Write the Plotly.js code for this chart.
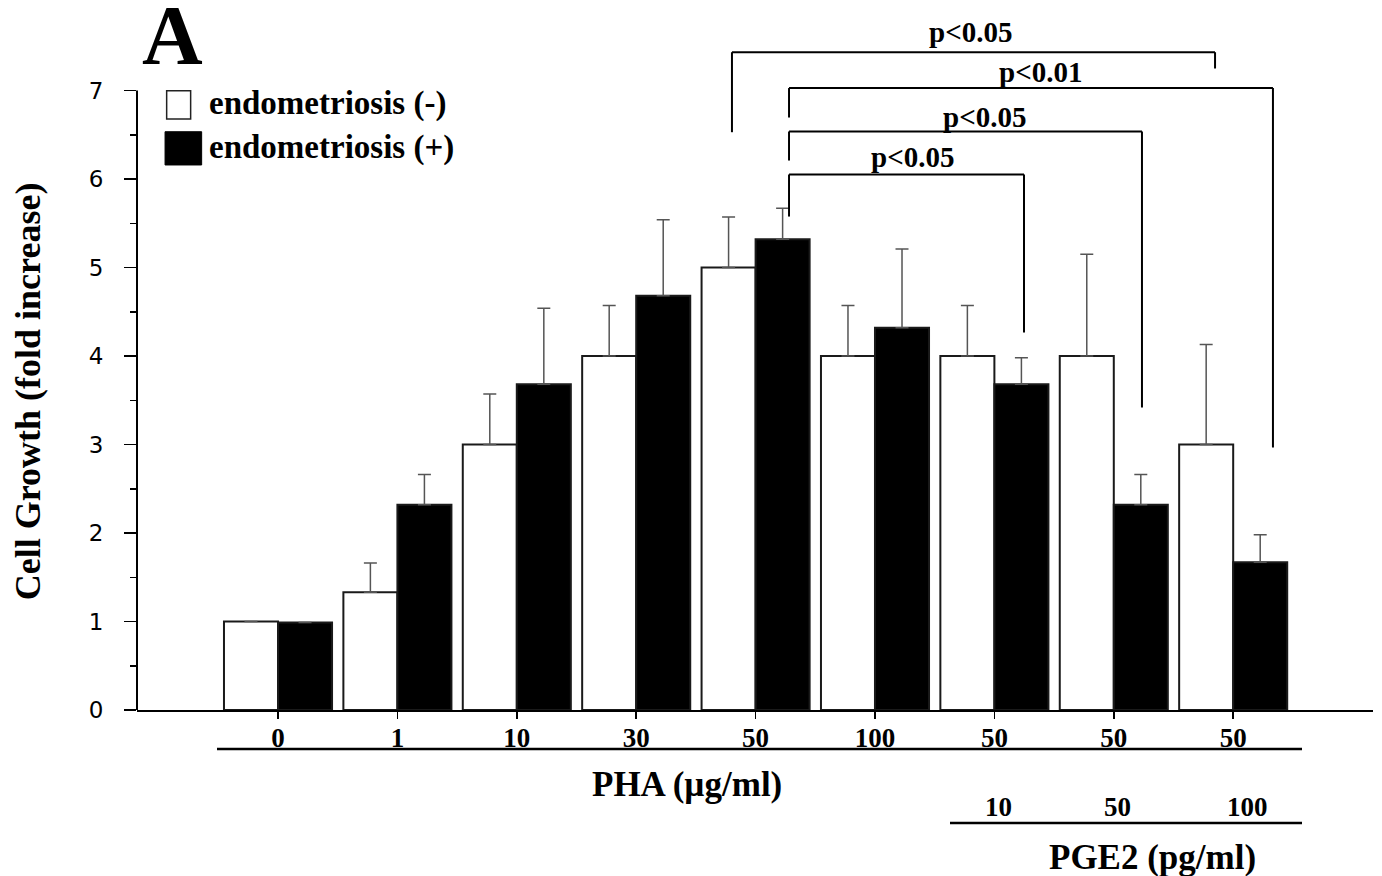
<!DOCTYPE html>
<html><head><meta charset="utf-8">
<script src="https://cdn.plot.ly/plotly-3.0.1.min.js"></script>
<style>html,body{margin:0;padding:0;background:#fff}#chart{width:1382px;height:876px}</style>
</head><body><div id="chart"></div>
<script>
// ---- data ----
const categories = ['PHA 0','PHA 1','PHA 10','PHA 30','PHA 50','PHA 100','PHA 50 + PGE2 10','PHA 50 + PGE2 50','PHA 50 + PGE2 100'];
const phaLabels = ['0','1','10','30','50','100','50','50','50'];
const pgeLabels = ['10','50','100'];
const pgeGroups = [6,7,8];
const endoNeg = [1.00,1.33,3.00,4.00,5.00,4.00,4.00,4.00,3.00];
const endoNegErr = [0,0.33,0.57,0.57,0.57,0.57,0.57,1.15,1.13];
const endoPos = [0.99,2.32,3.68,4.68,5.32,4.32,3.68,2.32,1.67];
const endoPosErr = [0,0.34,0.86,0.86,0.35,0.89,0.30,0.34,0.31];
const yTicks = [0,1,2,3,4,5,6,7];
const yMinorTicks = [0.5,1.5,2.5,3.5,4.5,5.5,6.5];
// significance brackets: left x, right x, top y, left leg end, right leg end
const bracketLeft  = [3.802, 4.280, 4.280, 4.280];
const bracketRight = [7.848, 8.333, 7.236, 6.248];
const bracketTop   = [7.433, 7.028, 6.537, 6.051];
const bracketLeftEnd  = [6.529, 6.695, 6.209, 5.576];
const bracketRightEnd = [7.249, 2.966, 3.418, 4.266];
const bracketText  = ['p<0.05','p<0.01','p<0.05','p<0.05'];
const bracketTextX = [5.796, 6.39, 5.913, 5.31];
const bracketTextY = [7.66, 7.205, 6.705, 6.245];

const SERIF = 'Liberation Serif, Times New Roman, serif';

const traces = [
  {type:'bar', name:'endometriosis (-)', x:categories, y:endoNeg,
   marker:{color:'#ffffff', line:{color:'#1a1a1a', width:2}},
   error_y:{type:'data', symmetric:false, array:endoNegErr, arrayminus:endoNeg.map(()=>0),
            color:'#555555', thickness:1.5, width:6.5}},
  {type:'bar', name:'endometriosis (+)', x:categories, y:endoPos,
   marker:{color:'#000000', line:{color:'#1a1a1a', width:2}},
   error_y:{type:'data', symmetric:false, array:endoPosErr, arrayminus:endoPos.map(()=>0),
            color:'#555555', thickness:1.5, width:6.5}}
];

const shapes = [];
const annotations = [];
function note(o){ annotations.push(Object.assign({showarrow:false, xanchor:'center', yanchor:'middle'}, o)); }
// manual y axis line (0..7)
shapes.push({type:'line', xref:'paper', yref:'y', x0:0, x1:0, y0:0, y1:7, line:{color:'#000', width:2}});
// brackets
for (let i=0;i<bracketText.length;i++){
  const ln = {color:'#000', width:2};
  shapes.push({type:'line', xref:'x', yref:'y', x0:bracketLeft[i], x1:bracketRight[i], y0:bracketTop[i], y1:bracketTop[i], line:ln});
  shapes.push({type:'line', xref:'x', yref:'y', x0:bracketLeft[i], x1:bracketLeft[i], y0:bracketTop[i], y1:bracketLeftEnd[i], line:ln});
  shapes.push({type:'line', xref:'x', yref:'y', x0:bracketRight[i], x1:bracketRight[i], y0:bracketTop[i], y1:bracketRightEnd[i], line:ln});
  note({xref:'x', yref:'y', x:bracketTextX[i], y:bracketTextY[i], text:bracketText[i],
    font:{family:SERIF, size:29, color:'#000', weight:'bold'}});
}
// lines under tick labels
shapes.push({type:'line', xref:'paper', yref:'paper', x0:(217-137)/1236, x1:(1302-137)/1236, y0:-0.0557, y1:-0.0557, line:{color:'#000', width:2.5}});
shapes.push({type:'line', xref:'paper', yref:'paper', x0:(950-137)/1236, x1:(1302-137)/1236, y0:-0.1614, y1:-0.1614, line:{color:'#000', width:2.5}});
// PGE2 labels row
pgeLabels.forEach((t,k)=>{
  note({xref:'x', yref:'paper', x:pgeGroups[k], y:-0.139, text:t, xshift: t.length>2?14:4,
    font:{family:SERIF, size:27, color:'#000', weight:'bold'}});
});
note({xref:'paper', yref:'paper', x:0.445, y:-0.107, text:'PHA (µg/ml)',
  font:{family:SERIF, size:35, color:'#000', weight:'bold'}});
note({xref:'paper', yref:'paper', x:0.822, y:-0.21, text:'PGE2 (pg/ml)',
  font:{family:SERIF, size:35, color:'#000', weight:'bold'}});
// y axis title
note({xref:'paper', yref:'paper', x:-0.088, y:(710-391)/700, text:'Cell Growth (fold increase)', textangle:-90,
  font:{family:SERIF, size:36, color:'#000', weight:'bold'}});
// panel letter
note({xref:'paper', yref:'paper', x:0.029, y:0.964, text:'A',
  font:{family:SERIF, size:84, color:'#000', weight:'bold'}});
// manual legend
shapes.push({type:'rect', xref:'paper', yref:'paper', x0:0.024, x1:0.0434, y0:0.8443, y1:0.8847, fillcolor:'#fff', line:{color:'#222', width:1.5}});
shapes.push({type:'rect', xref:'paper', yref:'paper', x0:0.0227, x1:0.0523, y0:0.7786, y1:0.8261, fillcolor:'#000', line:{color:'#000', width:1}});
note({xref:'paper', yref:'paper', x:0.0566, y:0.866, xanchor:'left', text:traces[0].name,
  font:{family:SERIF, size:33, color:'#000', weight:'bold'}});
note({xref:'paper', yref:'paper', x:0.0566, y:0.804, xanchor:'left', text:traces[1].name,
  font:{family:SERIF, size:33, color:'#000', weight:'bold'}});

const layout = {
  width:1382, height:876,
  margin:{l:137, r:9, t:10, b:166, pad:0},
  paper_bgcolor:'#fff', plot_bgcolor:'#fff',
  showlegend:false,
  barmode:'group', bargap:0.095, bargroupgap:0,
  xaxis:{type:'category', range:[-1.181, 9.171], showline:true, linecolor:'#000', linewidth:2,
    ticks:'outside', ticklen:7, tickwidth:1.5, tickcolor:'#000', ticklabelstandoff:-4,
    tickvals:categories, ticktext:phaLabels, showgrid:false, zeroline:false,
    tickfont:{family:SERIF, size:27, color:'#000', weight:'bold'}},
  yaxis:{range:[0,7.91], showline:false, showgrid:false, zeroline:false,
    ticks:'outside', ticklen:12, tickwidth:1.5, tickcolor:'#000', tickvals:yTicks,
    ticktext:yTicks.map(String), ticklabelstandoff:16,
    minor:{tickvals:yMinorTicks, ticks:'outside', ticklen:6, tickwidth:1.5, tickcolor:'#000', showgrid:false},
    tickfont:{family:'DejaVu Sans, sans-serif', size:23, color:'#000'}},
  shapes:shapes, annotations:annotations
};
Plotly.newPlot('chart', traces, layout, {displayModeBar:false, staticPlot:true});
</script></body></html>
